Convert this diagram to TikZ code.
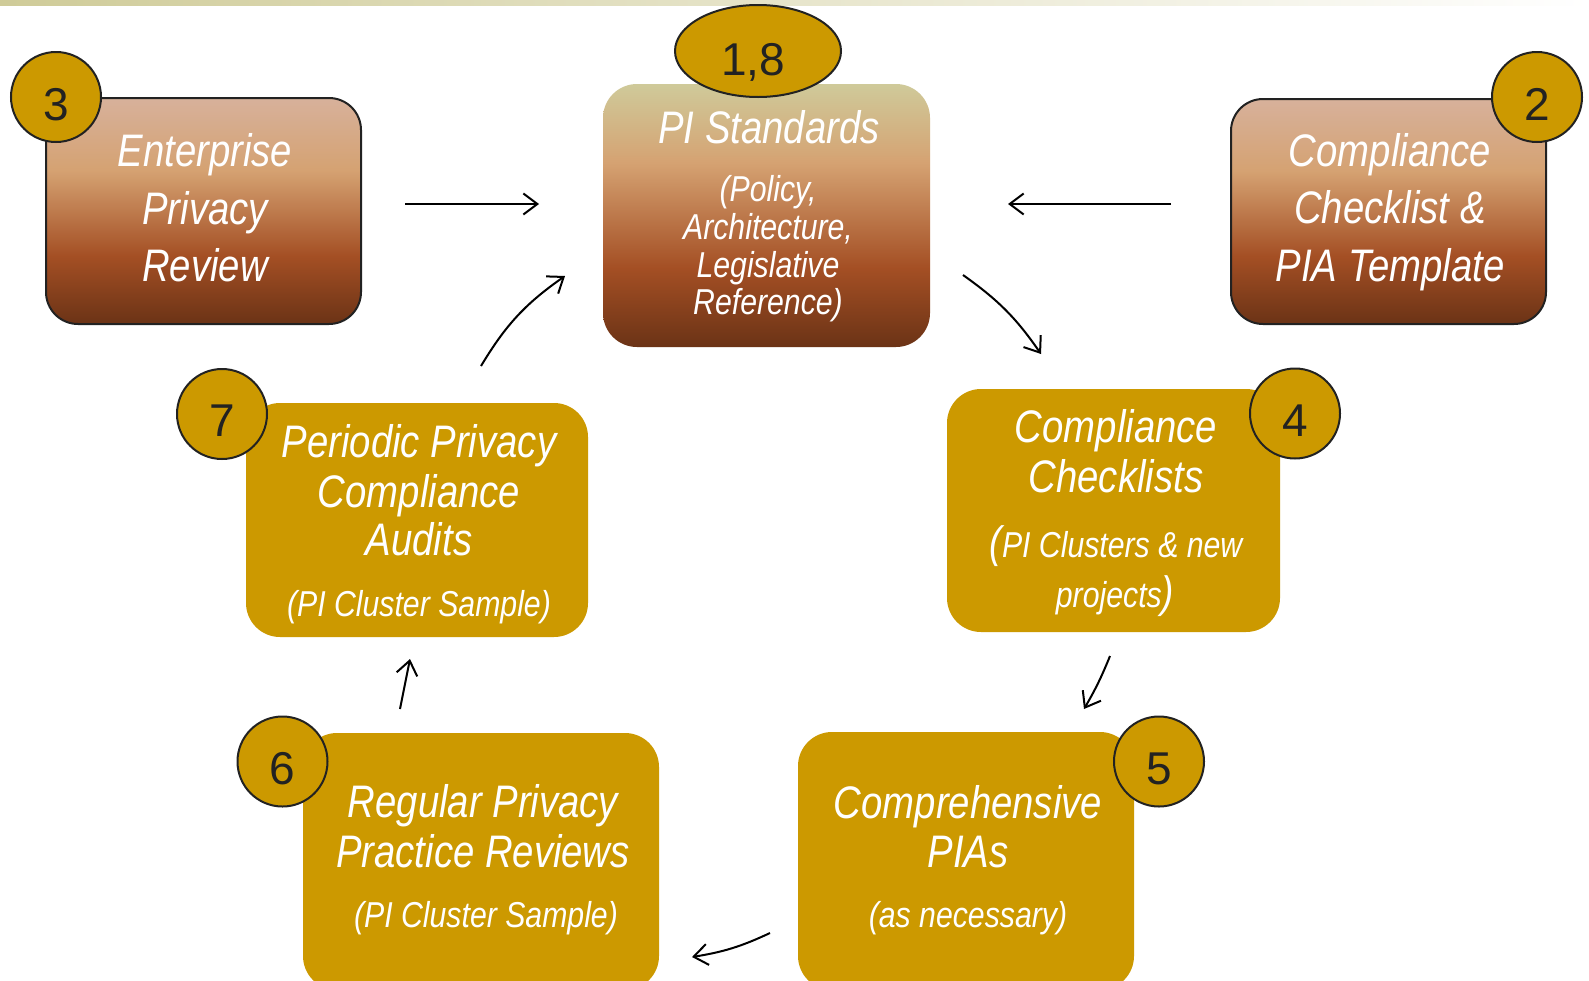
\documentclass[tikz,border=0pt]{standalone}
\usepackage{fontspec}
\setmainfont{Liberation Sans}
\newfontfamily\nit{Liberation Sans}[FakeStretch=0.84]
\usetikzlibrary{arrows.meta,shapes.geometric}
\definecolor{gold}{HTML}{CC9900}
\definecolor{ink}{HTML}{222222}
\definecolor{bTop}{HTML}{D7B19B}
\definecolor{bTan}{HTML}{D5A272}
\definecolor{bRust}{HTML}{A44F24}
\definecolor{bDark}{HTML}{6B3316}
\definecolor{bOlive}{HTML}{CFCA9A}
\definecolor{barOlive}{HTML}{CFCB98}
\pgfdeclareverticalshading{brownsh}{100bp}{color(0bp)=(bDark); color(25bp)=(bDark); color(40bp)=(bRust); color(59bp)=(bTan); color(75bp)=(bTop); color(100bp)=(bTop)}
\pgfdeclareverticalshading{pish}{100bp}{color(0bp)=(bDark); color(25bp)=(bDark); color(40bp)=(bRust); color(60bp)=(bTan); color(75bp)=(bOlive); color(100bp)=(bOlive)}
\begin{document}
\begin{tikzpicture}[x=0.5pt,y=-0.5pt,
  brownbox/.style={rectangle,rounded corners=16pt,shading=brownsh,draw=ink,line width=1pt,inner sep=0pt},
  pibox/.style={rectangle,rounded corners=17pt,shading=pish,inner sep=0pt},
  goldbox/.style={rectangle,rounded corners=17pt,fill=gold,inner sep=0pt},
  badge/.style={circle,fill=gold,draw=ink,line width=1pt,minimum size=45pt,inner sep=0pt},
  badgeell/.style={ellipse,fill=gold,draw=ink,line width=1pt,minimum width=83pt,minimum height=46pt,inner sep=0pt},
  num/.style={font=\fontsize{23}{23}\selectfont,text=ink,inner sep=0pt,text depth=0pt},
  ttl/.style={font=\nit\itshape\fontsize{22.8}{27}\selectfont,text=white,anchor=base,inner sep=0pt},
  sub/.style={font=\nit\itshape\fontsize{18}{22}\selectfont,text=white,anchor=base,inner sep=0pt},
  subs/.style={font=\nit\itshape\fontsize{18}{21}\selectfont,text=white,anchor=base,inner sep=0pt},
  subf/.style={font=\nit\itshape\fontsize{18}{20}\selectfont,text=white,anchor=base,inner sep=0pt},
  arr/.style={draw=black,line width=1pt,-{Straight Barb[length=7pt,width=10.5pt]}}
]
\useasboundingbox (0,0) rectangle (1589,980);
\clip (0,0) rectangle (1589,980);
\fill[white] (0,0) rectangle (1589,980);
\fill[left color=barOlive,right color=white] (0,0) rectangle (1589,5);

% boxes
\node[brownbox,minimum width=157.5pt,minimum height=113pt] (b3) at (203.5,211) {};
\node[pibox,minimum width=163.5pt,minimum height=131.5pt] (pi) at (766.5,215.5) {};
\node[brownbox,minimum width=157.5pt,minimum height=112.5pt] (b2) at (1388.5,211.5) {};
\node[goldbox,minimum width=166.5pt,minimum height=121.5pt] (b4) at (1113.5,510.5) {};
\node[goldbox,minimum width=171pt,minimum height=117pt] (b7) at (417,520) {};
\node[goldbox,minimum width=178pt,minimum height=128.5pt] (b6) at (481,861.5) {};
\node[goldbox,minimum width=168pt,minimum height=129pt] (b5) at (966,861) {};

% badges
\node[badgeell] (n18) at (758,51) {};
\node[badge] (n3) at (56,97) {};
\node[badge] (n2) at (1537,97) {};
\node[badge] (n4) at (1295,413.5) {};
\node[badge] (n7) at (222,414) {};
\node[badge] (n6) at (282.5,761.5) {};
\node[badge] (n5) at (1159,761.5) {};
\node[num] (n18t) at ([yshift=-4pt,xshift=-2.5pt]n18.center) {1,8};
\node[num] (n3t) at ([yshift=-3.5pt]n3.center) {3};
\node[num] (n2t) at ([yshift=-3.5pt]n2.center) {2};
\node[num] (n4t) at ([yshift=-3.5pt]n4.center) {4};
\node[num] (n7t) at ([yshift=-3.5pt]n7.center) {7};
\node[num] (n6t) at ([yshift=-3.5pt]n6.center) {6};
\node[num] (n5t) at ([yshift=-3.5pt]n5.center) {5};

% texts
\node[ttl] (t3a) at (205,166) {Enterprise};
\node[ttl] (t3b) at (205,224) {Privacy};
\node[ttl] (t3c) at (205,281) {Review};

\node[ttl] (t2a) at (1390,166) {Compliance};
\node[ttl] (t2b) at (1390,223) {Checklist \&};
\node[ttl] (t2c) at (1390,281) {PIA Template};

\node[ttl] (tpa) at (769,143) {PI Standards};
\node[subs] (tpb) at (768,201) {(Policy,};
\node[subs] (tpc) at (768,239) {Architecture,};
\node[subs] (tpd) at (768,277) {Legislative};
\node[subs] (tpe) at (768,314) {Reference)};

\node[ttl] (t7a) at (419,457) {Periodic Privacy};
\node[ttl] (t7b) at (419,507) {Compliance};
\node[ttl] (t7c) at (419,555) {Audits};
\node[sub] (t7d) at (419,616) {(PI Cluster Sample)};

\node[ttl] (t6a) at (483,817) {Regular Privacy};
\node[ttl] (t6b) at (483,867) {Practice Reviews};
\node[sub] (t6c) at (486,927) {(PI Cluster Sample)};

\node[ttl] (t5a) at (968,818) {Comprehensive};
\node[ttl] (t5b) at (968,867) {PIAs};
\node[sub] (t5c) at (968,927) {(as necessary)};

\node[ttl] (t4a) at (1116,442) {Compliance};
\node[ttl] (t4b) at (1116,492) {Checklists};
\node[subf] (t4c) at (1116,557) {{\fontsize{22}{22}\selectfont(}PI Clusters \& new};
\node[subf] (t4d) at (1115,607) {projects{\fontsize{22}{22}\selectfont)}};

% connectors
\coordinate (a1s) at (405,204); \coordinate (a1e) at (539,204);
\coordinate (a2s) at (1171,204); \coordinate (a2e) at (1008,204);
\coordinate (a3s) at (963,275); \coordinate (a3e) at (1041,354);
\coordinate (a4s) at (1110,656); \coordinate (a4e) at (1084,709);
\coordinate (a5s) at (770,933); \coordinate (a5e) at (692,957);
\coordinate (a6s) at (400,709); \coordinate (a6e) at (410,659);
\coordinate (a7s) at (481,366); \coordinate (a7e) at (565,276);
\draw[arr] (a1s) -- (a1e);
\draw[arr] (a2s) -- (a2e);
\draw[arr] (a3s) to[bend left=10] (a3e);
\draw[arr] (a4s) to[bend left=4] (a4e);
\draw[arr] (a5s) to[bend left=8] (a5e);
\draw[arr] (a6s) -- (a6e);
\draw[arr] (a7s) to[bend left=12] (a7e);
\end{tikzpicture}
\end{document}
